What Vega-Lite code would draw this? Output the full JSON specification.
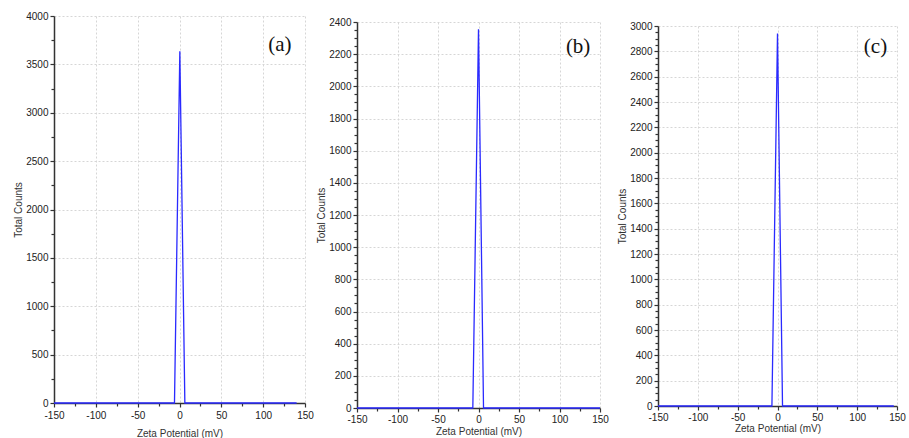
{
  "$schema": "https://vega.github.io/schema/vega-lite/v6.json",
  "padding": {"left": 13, "top": 5, "right": 0, "bottom": 0},
  "spacing": 0,
  "config": {
    "view": {"stroke": null},
    "axis": {
      "labelFont": "Liberation Sans",
      "labelFontSize": 10,
      "labelColor": "#222222",
      "titleFont": "Liberation Sans",
      "titleFontSize": 10,
      "titleFontWeight": "normal",
      "titleColor": "#333333",
      "domainColor": "#333333",
      "domainWidth": 1.5,
      "tickColor": "#333333",
      "tickWidth": 1.2,
      "tickCount": 200,
      "gridColor": "#d6d6d6",
      "gridDash": [2, 2],
      "gridWidth": 1,
      "labelFlush": false,
      "labelPadding": 2
    }
  },
  "hconcat": [
    {
      "spacing": 0,
      "vconcat": [
        {"width": 262, "height": 6, "data": {"values": []}, "mark": {"type": "text"}, "encoding": {}},
        {
          "width": 251,
          "height": 387,
          "layer": [
            {
              "data": {"values": [
                {"zeta": -150, "counts": 0},
                {"zeta": -6, "counts": 0},
                {"zeta": 0.4, "counts": 3635},
                {"zeta": 6.4, "counts": 0},
                {"zeta": 140, "counts": 0}
              ]},
              "mark": {"type": "line", "color": "#2a2aff", "strokeWidth": 1.3},
              "encoding": {
                "x": {"field": "zeta", "type": "quantitative", "title": "Zeta Potential (mV)",
                  "scale": {"domain": [-150, 150], "nice": false, "zero": false},
                  "axis": {"values": [-150,-125,-100,-75,-50,-25,0,25,50,75,100,125,150], "tickCount": 200,
                    "labelExpr": "datum.value % 50 == 0 ? '' + datum.value : ''",
                    "labelFontSize": {"condition": {"test": "datum.value % 50 != 0", "value": 0}, "value": 10},
                    "tickSize": {"condition": {"test": "datum.value % 50 != 0", "value": 3}, "value": 4},
                    "gridOpacity": {"condition": {"test": "datum.value % 50 != 0", "value": 0}, "value": 1},
                    "labelPadding": 3,
                    "titlePadding": 8}},
                "y": {"field": "counts", "type": "quantitative", "title": "Total Counts",
                  "scale": {"domain": [0, 4000], "nice": false},
                  "axis": {"values": [0,250,500,750,1000,1250,1500,1750,2000,2250,2500,2750,3000,3250,3500,3750,4000], "tickCount": 200,
                    "labelExpr": "datum.value % 500 == 0 ? '' + datum.value : ''",
                    "labelFontSize": {"condition": {"test": "datum.value % 500 != 0", "value": 0}, "value": 10},
                    "tickSize": {"condition": {"test": "datum.value % 500 != 0", "value": 3}, "value": 4},
                    "gridOpacity": {"condition": {"test": "datum.value % 500 != 0", "value": 0}, "value": 1},
                    "titlePadding": 2}}
              }
            },
            {
              "data": {"values": [{"label": "(a)", "zeta": 120, "counts": 3700}]},
              "mark": {"type": "text", "font": "Liberation Serif", "fontSize": 21, "color": "#111111"},
              "encoding": {
                "x": {"field": "zeta", "type": "quantitative"},
                "y": {"field": "counts", "type": "quantitative"},
                "text": {"field": "label"}
              }
            }
          ]
        }
      ]
    },
    {
      "spacing": 0,
      "vconcat": [
        {"width": 260, "height": 12, "data": {"values": []}, "mark": {"type": "text"}, "encoding": {}},
        {
          "width": 243,
          "height": 386,
          "layer": [
            {
              "data": {"values": [
                {"zeta": -150, "counts": 0},
                {"zeta": -7, "counts": 0},
                {"zeta": 0, "counts": 2355},
                {"zeta": 6.2, "counts": 0},
                {"zeta": 150, "counts": 0}
              ]},
              "mark": {"type": "line", "color": "#2a2aff", "strokeWidth": 1.3},
              "encoding": {
                "x": {"field": "zeta", "type": "quantitative", "title": "Zeta Potential (mV)",
                  "scale": {"domain": [-150, 150], "nice": false, "zero": false},
                  "axis": {"values": [-150,-125,-100,-75,-50,-25,0,25,50,75,100,125,150], "tickCount": 200,
                    "labelExpr": "datum.value % 50 == 0 ? '' + datum.value : ''",
                    "labelFontSize": {"condition": {"test": "datum.value % 50 != 0", "value": 0}, "value": 10},
                    "tickSize": {"condition": {"test": "datum.value % 50 != 0", "value": 3}, "value": 4},
                    "gridOpacity": {"condition": {"test": "datum.value % 50 != 0", "value": 0}, "value": 1},
                    "titlePadding": 2}},
                "y": {"field": "counts", "type": "quantitative", "title": "Total Counts",
                  "scale": {"domain": [0, 2400], "nice": false},
                  "axis": {"values": [0,50,100,150,200,250,300,350,400,450,500,550,600,650,700,750,800,850,900,950,1000,1050,1100,1150,1200,1250,1300,1350,1400,1450,1500,1550,1600,1650,1700,1750,1800,1850,1900,1950,2000,2050,2100,2150,2200,2250,2300,2350,2400], "tickCount": 200,
                    "labelExpr": "datum.value % 200 == 0 ? '' + datum.value : ''",
                    "labelFontSize": {"condition": {"test": "datum.value % 200 != 0", "value": 0}, "value": 10},
                    "tickSize": {"condition": {"test": "datum.value % 200 != 0", "value": 3}, "value": 4},
                    "gridOpacity": {"condition": {"test": "datum.value % 200 != 0", "value": 0}, "value": 1},
                    "titlePadding": 2}}
              }
            },
            {
              "data": {"values": [{"label": "(b)", "zeta": 123, "counts": 2245}]},
              "mark": {"type": "text", "font": "Liberation Serif", "fontSize": 21, "color": "#111111"},
              "encoding": {
                "x": {"field": "zeta", "type": "quantitative"},
                "y": {"field": "counts", "type": "quantitative"},
                "text": {"field": "label"}
              }
            }
          ]
        }
      ]
    },
    {
      "spacing": 0,
      "vconcat": [
        {"width": 1, "height": 16, "data": {"values": []}, "mark": {"type": "text"}, "encoding": {}},
        {
          "width": 239,
          "height": 380,
          "layer": [
            {
              "data": {"values": [
                {"zeta": -150, "counts": 0},
                {"zeta": -7, "counts": 0},
                {"zeta": 0, "counts": 2940},
                {"zeta": 6.3, "counts": 0},
                {"zeta": 146, "counts": 0}
              ]},
              "mark": {"type": "line", "color": "#2a2aff", "strokeWidth": 1.3},
              "encoding": {
                "x": {"field": "zeta", "type": "quantitative", "title": "Zeta Potential (mV)",
                  "scale": {"domain": [-150, 150], "nice": false, "zero": false},
                  "axis": {"values": [-150,-125,-100,-75,-50,-25,0,25,50,75,100,125,150], "tickCount": 200,
                    "labelExpr": "datum.value % 50 == 0 ? '' + datum.value : ''",
                    "labelFontSize": {"condition": {"test": "datum.value % 50 != 0", "value": 0}, "value": 10},
                    "tickSize": {"condition": {"test": "datum.value % 50 != 0", "value": 3}, "value": 4},
                    "gridOpacity": {"condition": {"test": "datum.value % 50 != 0", "value": 0}, "value": 1},
                    "titlePadding": 1}},
                "y": {"field": "counts", "type": "quantitative", "title": "Total Counts",
                  "scale": {"domain": [0, 3000], "nice": false},
                  "axis": {"values": [0,50,100,150,200,250,300,350,400,450,500,550,600,650,700,750,800,850,900,950,1000,1050,1100,1150,1200,1250,1300,1350,1400,1450,1500,1550,1600,1650,1700,1750,1800,1850,1900,1950,2000,2050,2100,2150,2200,2250,2300,2350,2400,2450,2500,2550,2600,2650,2700,2750,2800,2850,2900,2950,3000], "tickCount": 200,
                    "labelExpr": "datum.value % 200 == 0 ? '' + datum.value : ''",
                    "labelFontSize": {"condition": {"test": "datum.value % 200 != 0", "value": 0}, "value": 10},
                    "tickSize": {"condition": {"test": "datum.value % 200 != 0", "value": 3}, "value": 4},
                    "gridOpacity": {"condition": {"test": "datum.value % 200 != 0", "value": 0}, "value": 1},
                    "titlePadding": 2}}
              }
            },
            {
              "data": {"values": [{"label": "(c)", "zeta": 123, "counts": 2834}]},
              "mark": {"type": "text", "font": "Liberation Serif", "fontSize": 21, "color": "#111111"},
              "encoding": {
                "x": {"field": "zeta", "type": "quantitative"},
                "y": {"field": "counts", "type": "quantitative"},
                "text": {"field": "label"}
              }
            }
          ]
        }
      ]
    }
  ]
}
